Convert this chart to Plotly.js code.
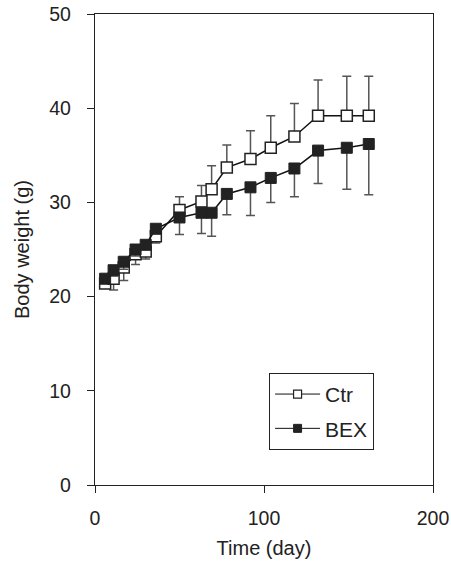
<!DOCTYPE html>
<html><head><meta charset="utf-8">
<script src="https://cdn.plot.ly/plotly-3.0.1.min.js"></script>
<style>body{margin:0}#c{width:451px;height:565px}</style></head>
<body><div id="c"></div><script>
const days = [6, 11, 17, 24, 30, 36, 50, 63, 69, 78, 92, 104, 118, 132, 149, 162];
const ctr = [21.4, 21.9, 23.1, 24.5, 24.8, 26.4, 29.2, 30.1, 31.4, 33.7, 34.6, 35.8, 37.0, 39.2, 39.2, 39.2];
const ctrUp = [0, 0, 0, 0, 0, 0, 1.4, 1.7, 2.5, 2.4, 3.0, 3.4, 3.5, 3.8, 4.2, 4.2];
const ctrDown = [0.5, 1.2, 1.4, 1.1, 0.8, 0.7, 0, 0, 0, 0, 0, 0, 0, 0, 0, 0];
const bex = [21.9, 22.8, 23.7, 25.0, 25.5, 27.2, 28.4, 28.9, 28.9, 30.9, 31.6, 32.6, 33.6, 35.5, 35.8, 36.2];
const bexDown = [0.5, 0.6, 0.8, 0.7, 0.5, 0.4, 1.8, 2.2, 2.5, 2.2, 3.0, 2.6, 3.0, 3.5, 4.4, 5.4];
const bexUp = [0, 0, 0, 0, 0, 0, 0, 0, 0, 0, 0, 0, 0, 0, 0, 0];
const seriesNames = ['Ctr', 'BEX'];

const ebStyle = {color: '#555', thickness: 1.5, width: 4.5};
const ctrMarker = {symbol: 'square', size: 11, color: '#fff', line: {color: '#222', width: 1.5}};
const bexMarker = {symbol: 'square', size: 11, color: '#222', line: {color: '#222', width: 1}};
const traces = [
  {x: days, y: ctr, name: seriesNames[0], type: 'scatter', mode: 'lines+markers', showlegend: false,
   line: {color: '#111', width: 1.5}, marker: ctrMarker,
   error_y: Object.assign({type: 'data', symmetric: false, array: ctrUp, arrayminus: ctrDown}, ebStyle)},
  {x: days, y: bex, name: seriesNames[1], type: 'scatter', mode: 'lines+markers', showlegend: false,
   line: {color: '#111', width: 1.5}, marker: bexMarker,
   error_y: Object.assign({type: 'data', symmetric: false, array: bexUp, arrayminus: bexDown}, ebStyle)},
  {x: [null], y: [null], name: seriesNames[0], type: 'scatter', mode: 'lines+markers', legendgroup: 'a',
   line: {color: '#111', width: 1}, marker: {symbol: 'square', size: 8, color: '#fff', line: {color: '#222', width: 1.2}}},
  {x: [null], y: [null], name: seriesNames[1], type: 'scatter', mode: 'lines+markers', legendgroup: 'b',
   line: {color: '#111', width: 1}, marker: {symbol: 'square', size: 8, color: '#222', line: {color: '#222', width: 1}}}
];
const fam = 'Liberation Sans, Arial, sans-serif';
const tickFont = {family: fam, size: 19.5, color: '#222'};
const titleFont = {family: fam, size: 20, color: '#222'};
const layout = {
  width: 451, height: 565,
  margin: {l: 95, r: 18, t: 14, b: 80},
  paper_bgcolor: '#fff', plot_bgcolor: '#fff',
  font: tickFont,
  showlegend: true,
  legend: {x: 0.515, y: 0.238, xanchor: 'left', yanchor: 'top',
    bordercolor: '#222', borderwidth: 1, bgcolor: '#fff', itemwidth: 45,
    font: {family: fam, size: 21, color: '#222'}, tracegroupgap: 4},
  xaxis: {range: [0, 200], tickvals: [0, 100, 200], ticks: 'outside', ticklen: 7, tickcolor: '#222',
    ticklabelstandoff: 8, tickfont: tickFont,
    showgrid: false, zeroline: false, showline: true, linecolor: '#222', linewidth: 1.2, mirror: true,
    title: {text: 'Time (day)', font: titleFont, standoff: 13}},
  yaxis: {range: [0, 50], tickvals: [0, 10, 20, 30, 40, 50], ticks: 'outside', ticklen: 7, tickcolor: '#222',
    ticklabelstandoff: 12, tickfont: tickFont,
    showgrid: false, zeroline: false, showline: true, linecolor: '#222', linewidth: 1.2, mirror: true,
    title: {text: 'Body weight (g)', font: titleFont, standoff: 14}}
};
Plotly.newPlot('c', traces, layout, {displayModeBar: false, staticPlot: true});
</script></body></html>
